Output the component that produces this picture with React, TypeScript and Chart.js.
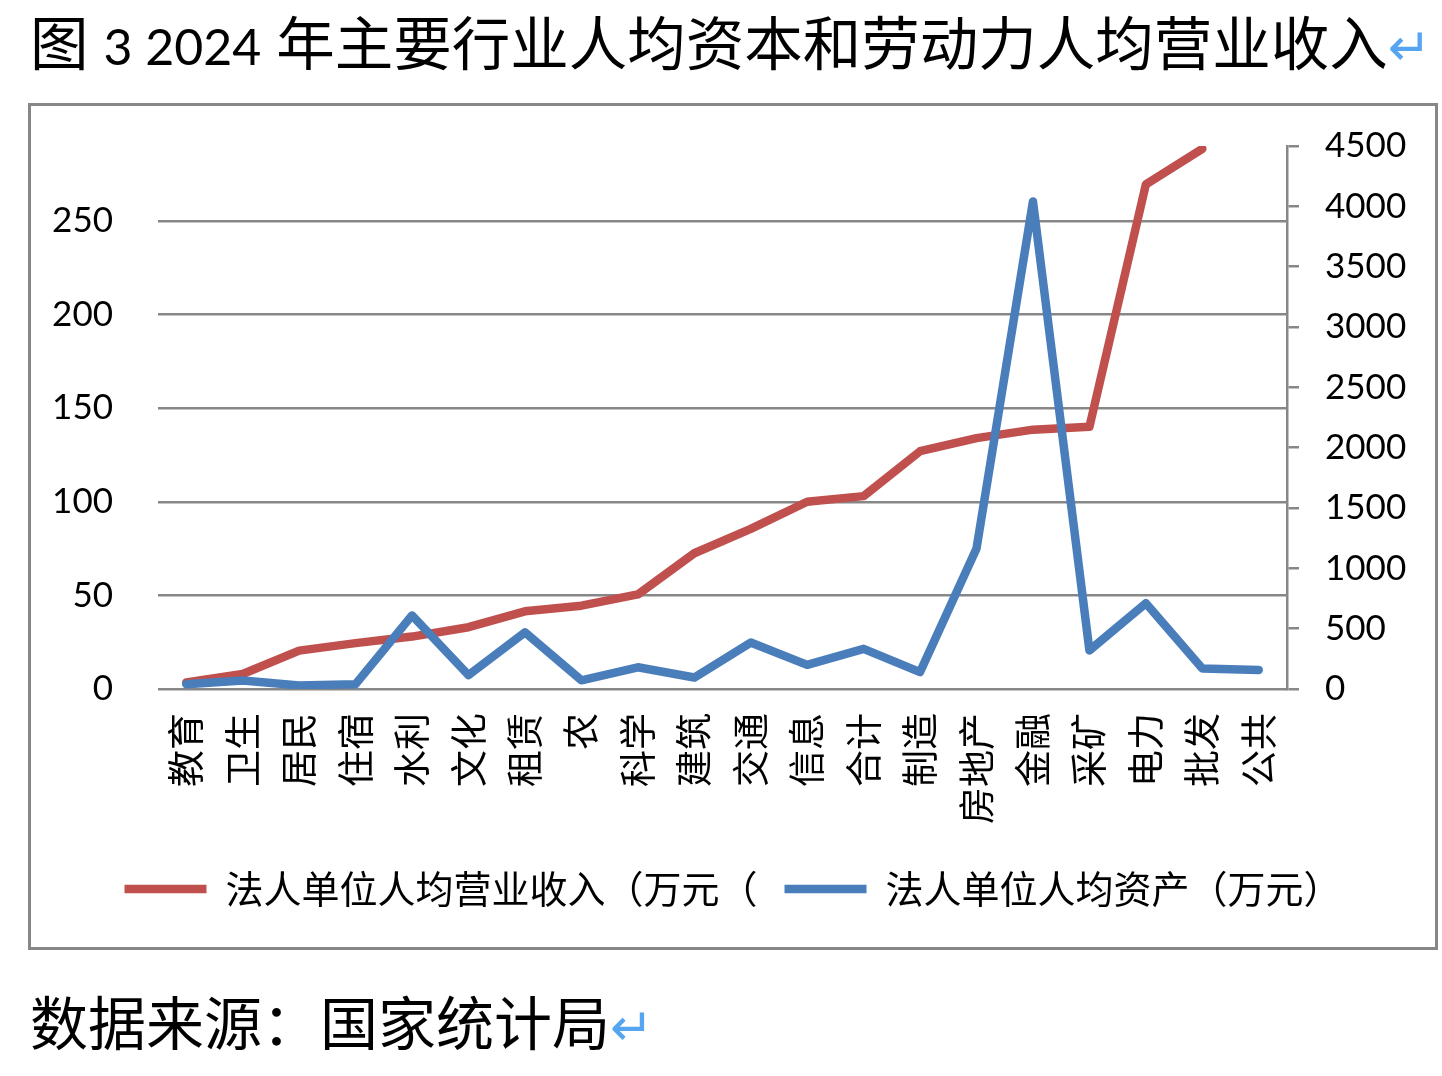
import { useEffect, useRef } from 'react';
import { Chart, registerables } from 'chart.js';

Chart.register(...registerables);

// 行业类别
const categories = ['教育', '卫生', '居民', '住宿', '水利', '文化', '租赁', '农', '科学', '建筑', '交通', '信息', '合计', '制造', '房地产', '金融', '采矿', '电力', '批发', '公共'];
// 法人单位人均营业收入（万元）- 左轴
const revenuePerCapita = [3.5, 8, 20.5, 24.5, 28, 33, 41.5, 44.5, 50.5, 72.5, 85.5, 100, 103, 127, 134, 138.5, 140, 269.5, 288.5, null];
// 法人单位人均资产（万元）- 右轴
const assetsPerCapita = [40, 70, 30, 40, 610, 115, 470, 72, 180, 95, 385, 200, 333, 140, 1165, 4040, 320, 710, 170, 158];
const leftTicks = [0, 50, 100, 150, 200, 250];
const rightTicks = [0, 500, 1000, 1500, 2000, 2500, 3000, 3500, 4000, 4500];

const GRAY = '#878787';
const ARROW_BLUE = '#55A5F0';
const NUM_FONT = "Lato, 'Noto Sans CJK SC', sans-serif";
const CJK_FONT = "'Noto Sans CJK SC', sans-serif";

const IndustryChart = () => {
  const chartRef = useRef<HTMLCanvasElement>(null);
  const chartInstance = useRef<Chart | null>(null);

  useEffect(() => {
    if (chartInstance.current) {
      chartInstance.current.destroy();
    }
    if (!chartRef.current) return;
    const ctx = chartRef.current.getContext('2d');
    if (!ctx) return;

    chartInstance.current = new Chart(ctx, {
      type: 'line',
      data: {
        labels: categories,
        datasets: [
          {
            label: '法人单位人均营业收入（万元（',
            data: revenuePerCapita,
            yAxisID: 'y',
            borderColor: '#C0504D',
            backgroundColor: '#C0504D',
            borderWidth: 8.5,
            borderCapStyle: 'round',
            borderJoinStyle: 'round',
            pointRadius: 0,
            tension: 0,
            order: 2,
          },
          {
            label: '法人单位人均资产（万元）',
            data: assetsPerCapita,
            yAxisID: 'y1',
            borderColor: '#4A7EBB',
            backgroundColor: '#4A7EBB',
            borderWidth: 8.5,
            borderCapStyle: 'round',
            borderJoinStyle: 'round',
            pointRadius: 0,
            tension: 0,
            order: 1, // 蓝线画在上层
          },
        ],
      },
      options: {
        animation: false,
        responsive: true,
        maintainAspectRatio: false,
        layout: { padding: { top: 0, bottom: 29, left: 0, right: 0 } },
        plugins: {
          tooltip: { enabled: false },
          legend: {
            position: 'bottom',
            labels: {
              usePointStyle: true,
              pointStyle: 'line',
              pointStyleWidth: 82,
              padding: 27,
              color: '#000',
              font: { family: CJK_FONT, size: 38 },
              sort: (a, b) => (a.datasetIndex ?? 0) - (b.datasetIndex ?? 0),
            },
          },
        },
        scales: {
          x: {
            offset: true,
            grid: { display: false, drawTicks: false },
            border: { display: false },
            ticks: {
              autoSkip: false,
              minRotation: 90,
              maxRotation: 90,
              padding: 24,
              color: '#000',
              font: { family: CJK_FONT, size: 37 },
            },
            afterFit: (axis) => {
              axis.height = 154;
            },
          },
          y: {
            position: 'left',
            min: 0,
            max: 290,
            grid: { color: GRAY, lineWidth: 2.5, drawTicks: false },
            border: { display: false },
            ticks: {
              padding: 45,
              color: '#000',
              font: { family: NUM_FONT, size: 35 },
              callback: (v) => String(v),
            },
            afterBuildTicks: (axis) => {
              axis.ticks = leftTicks.map((v) => ({ value: v }));
            },
            afterFit: (axis) => {
              axis.width = 127;
            },
          },
          y1: {
            position: 'right',
            min: 0,
            max: 4500,
            grid: {
              drawOnChartArea: false,
              drawTicks: true,
              tickLength: 12,
              color: GRAY,
              lineWidth: 2.5,
            },
            border: { display: true, color: GRAY, width: 2.5 },
            ticks: {
              padding: 26,
              color: '#000',
              font: { family: NUM_FONT, size: 35 },
              callback: (v) => String(v),
            },
            afterBuildTicks: (axis) => {
              axis.ticks = rightTicks.map((v) => ({ value: v }));
            },
            afterFit: (axis) => {
              axis.width = 148;
            },
          },
        },
      },
    });

    return () => {
      if (chartInstance.current) {
        chartInstance.current.destroy();
        chartInstance.current = null;
      }
    };
  }, []);

  // 画布向上多出 26px（透明），抵消刻度标签留白带来的顶部内边距
  return (
    <div style={{ position: 'absolute', left: 0, top: -26, width: 1404, height: 867 }}>
      <canvas ref={chartRef}></canvas>
    </div>
  );
};

const App = () => {
  return (
    <div style={{ position: 'absolute', left: 0, top: 0, width: 1442, height: 1076, background: '#fff' }}>
      <div
        style={{
          position: 'absolute',
          left: 30,
          top: 13,
          fontSize: 58.5,
          lineHeight: '58px',
          fontFamily: NUM_FONT,
          whiteSpace: 'nowrap',
          color: '#000',
        }}
      >
        图 <span style={{ fontSize: 50 }}>3 2024</span> 年主要行业人均资本和劳动力人均营业收入
        <span style={{ color: ARROW_BLUE, fontSize: 52, fontFamily: "'DejaVu Sans'" }}>↵</span>
      </div>

      <div
        style={{
          position: 'absolute',
          left: 28,
          top: 103,
          width: 1410,
          height: 847,
          boxSizing: 'border-box',
          border: `3px solid ${GRAY}`,
        }}
      >
        <IndustryChart />
      </div>

      <div
        style={{
          position: 'absolute',
          left: 30,
          top: 991,
          fontSize: 58,
          lineHeight: '58px',
          fontFamily: CJK_FONT,
          whiteSpace: 'nowrap',
          color: '#000',
        }}
      >
        数据来源：国家统计局
        <span style={{ color: ARROW_BLUE, fontSize: 52, fontFamily: "'DejaVu Sans'" }}>↵</span>
      </div>
    </div>
  );
};

export default App;
